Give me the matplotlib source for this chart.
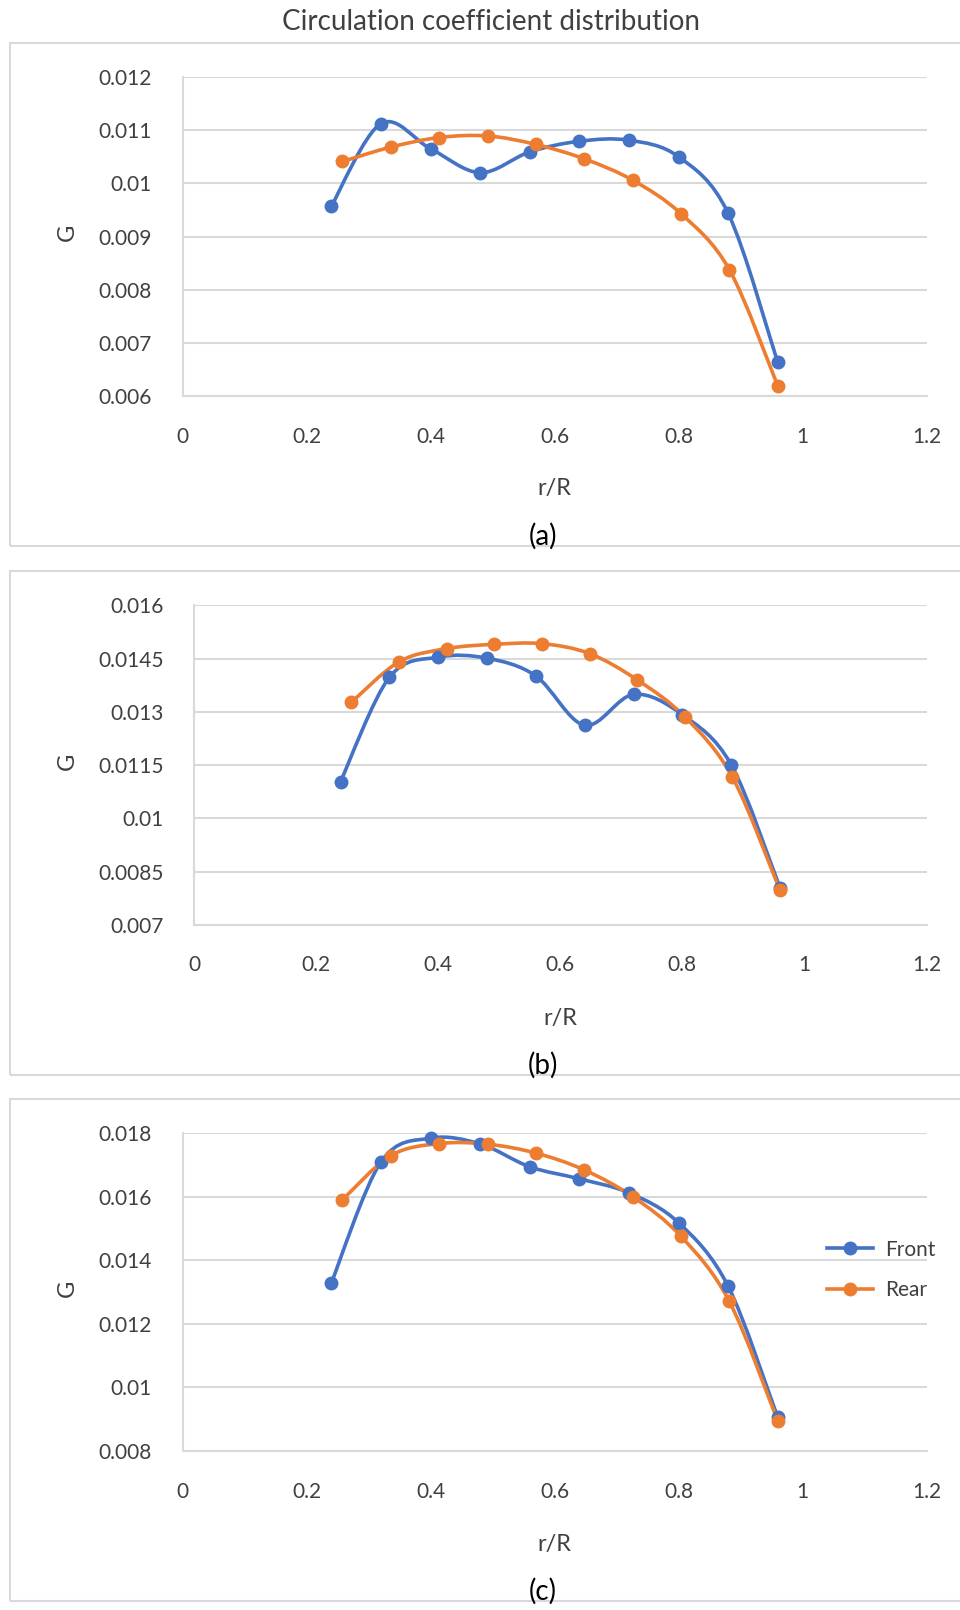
import numpy as np
import matplotlib
matplotlib.use("Agg")
import matplotlib.pyplot as plt
from matplotlib.path import Path
from matplotlib.patches import PathPatch, Rectangle
from matplotlib.lines import Line2D
from matplotlib.ticker import FuncFormatter, MultipleLocator

plt.rcParams["font.family"] = ["Lato", "DejaVu Sans"]

# ---- data ----
front_x = [0.24, 0.32, 0.40, 0.48, 0.56, 0.64, 0.72, 0.80, 0.88, 0.96]
rear_x = [0.258, 0.336, 0.414, 0.492, 0.570, 0.648, 0.726, 0.804, 0.882, 0.96]

front_a = [0.00957, 0.01112, 0.01065, 0.01020, 0.01059, 0.01079, 0.01081, 0.01050, 0.00944, 0.00664]
rear_a = [0.01041, 0.01068, 0.01086, 0.01089, 0.01073, 0.01046, 0.01006, 0.00943, 0.00838, 0.00620]

front_b = [0.01103, 0.01397, 0.01454, 0.01451, 0.01401, 0.01262, 0.01349, 0.01292, 0.01151, 0.00804]
rear_b = [0.01327, 0.01441, 0.01478, 0.01490, 0.01492, 0.01464, 0.01390, 0.01286, 0.01116, 0.00797]

front_c = [0.01329, 0.01710, 0.01785, 0.01767, 0.01695, 0.01657, 0.01613, 0.01519, 0.01319, 0.00906]
rear_c = [0.01591, 0.01730, 0.01768, 0.01766, 0.01738, 0.01685, 0.01601, 0.01476, 0.01271, 0.00895]

panel_labels = ["(a)", "(b)", "(c)"]
y_ranges = [(0.006, 0.012, 0.001), (0.007, 0.016, 0.0015), (0.008, 0.018, 0.002)]

BLUE = "#4472C4"
ORANGE = "#ED7D31"
GRID = "#D9D9D9"
TXT = "#404040"

W, H = 960, 1610


def fx(px):
    return px / W


def fy(py):
    return 1 - py / H


def smooth_path(xs, ys):
    """Excel-like smoothed line as a chain of cubic Bezier segments"""
    pts = np.column_stack([xs, ys]).astype(float)
    n = len(pts)
    verts = [pts[0]]
    codes = [Path.MOVETO]
    for i in range(n - 1):
        p0 = pts[i - 1] if i > 0 else pts[i]
        p1 = pts[i]
        p2 = pts[i + 1]
        p3 = pts[i + 2] if i + 2 < n else pts[i + 1]
        verts += [p1 + (p2 - p0) / 6, p2 - (p3 - p1) / 6, p2]
        codes += [Path.CURVE4] * 3
    return Path(verts, codes)


fig = plt.figure(figsize=(W / 100, H / 100), dpi=100)

fig.text(fx(491), fy(22), "Circulation coefficient distribution",
         ha="center", va="center", fontsize=20, color=TXT)

# panel frames and plot areas in pixel coordinates
panels = [
    dict(box=(10, 43, 546), ax=(182.5, 76.8, 396.4), lab_y=536, xl_y=489, yl=152),
    dict(box=(10, 571, 1075), ax=(194, 605.3, 924.8), lab_y=1065, xl_y=1018, yl=163.5),
    dict(box=(10, 1099, 1601), ax=(182.5, 1133.4, 1451), lab_y=1591, xl_y=1544, yl=152),
]
series = [(front_a, rear_a), (front_b, rear_b), (front_c, rear_c)]

for i, p in enumerate(panels):
    bx, btop, bbot = p["box"]
    fig.patches.append(Rectangle((fx(bx), fy(bbot)), fx(W + 20 - bx), (bbot - btop) / H,
                                 transform=fig.transFigure, fill=False,
                                 edgecolor=GRID, lw=1.5, zorder=0))

    left, top, bottom = p["ax"]
    right = 926.5
    ax = fig.add_axes([fx(left), fy(bottom), (right - left) / W, (bottom - top) / H])
    ymin, ymax, ystep = y_ranges[i]
    ax.set_xlim(0, 1.2)
    ax.set_ylim(ymin, ymax)
    ax.xaxis.set_major_locator(MultipleLocator(0.2))
    ax.set_yticks(np.arange(ymin, ymax + ystep / 2, ystep))
    ax.xaxis.set_major_formatter(FuncFormatter(lambda v, pos: f"{round(v, 4):g}"))
    ax.yaxis.set_major_formatter(FuncFormatter(lambda v, pos: f"{round(v, 5):g}"))
    ax.grid(axis="y", color=GRID, lw=1.5)
    ax.set_axisbelow(True)
    for s in ["top", "right"]:
        ax.spines[s].set_visible(False)
    for s in ["left", "bottom"]:
        ax.spines[s].set_color(GRID)
        ax.spines[s].set_linewidth(1.5)
    ax.tick_params(length=0, labelsize=15, labelcolor=TXT)
    ax.tick_params(axis="x", pad=22)
    ax.tick_params(axis="y", pad=(left - p["yl"]) * 0.72)

    fr, re = series[i]
    for xs, ys, col in [(front_x, fr, BLUE), (rear_x, re, ORANGE)]:
        ax.add_patch(PathPatch(smooth_path(xs, ys), fill=False, edgecolor=col,
                               lw=2.6, capstyle="round", joinstyle="round",
                               zorder=3, clip_on=False))
        ax.plot(xs, ys, linestyle="none", marker="o", ms=9, color=col,
                zorder=4, clip_on=False)

    fig.text(fx((left + right) / 2), fy(p["xl_y"]), "r/R", ha="center", va="center",
             fontsize=17, color=TXT)
    fig.text(fx(67), fy((top + bottom) / 2 - 4), "G", ha="center", va="center",
             rotation=90, fontsize=17, color=TXT)
    fig.text(fx(543), fy(p["lab_y"]), panel_labels[i], ha="center", va="center",
             fontsize=20, color="black")

    if i == 2:
        handles = [
            Line2D([], [], color=BLUE, lw=2.6, marker="o", ms=9),
            Line2D([], [], color=ORANGE, lw=2.6, marker="o", ms=9),
        ]
        ax.legend(handles, ["Front", "Rear"], loc="center left",
                  bbox_to_anchor=(fx(827), fy(1270)), bbox_transform=fig.transFigure,
                  frameon=False, fontsize=15, borderpad=0, borderaxespad=0,
                  handlelength=2.2, handletextpad=0.6, labelspacing=1.0,
                  labelcolor=TXT)

fig.savefig("out.png", dpi=100)
